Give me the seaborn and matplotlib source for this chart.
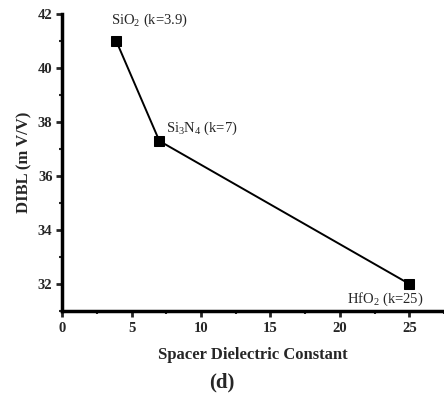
import matplotlib
matplotlib.use("Agg")
import matplotlib.pyplot as plt
import seaborn as sns
import pandas as pd
from matplotlib.ticker import MultipleLocator

# Data: spacer dielectric constant vs DIBL
k_values = [3.9, 7, 25]
dibl = [41.0, 37.3, 32.0]
materials = ["SiO$_2$ (k=3.9)", "Si$_3$N$_4$ (k=7)", "HfO$_2$ (k=25)"]

df = pd.DataFrame({"k": k_values, "DIBL": dibl})

sns.set_style("white")
plt.rcParams["font.family"] = ["Liberation Serif", "DejaVu Serif"]
plt.rcParams["mathtext.fontset"] = "custom"
plt.rcParams["mathtext.rm"] = "Liberation Serif"
plt.rcParams["mathtext.it"] = "Liberation Serif:italic"
plt.rcParams["mathtext.bf"] = "Liberation Serif:bold"
plt.rcParams["mathtext.default"] = "regular"

fig = plt.figure(figsize=(4.44, 3.94), dpi=100)
ax = fig.add_axes([0.14, 0.211, 0.86, 0.753])

sns.lineplot(data=df, x="k", y="DIBL", ax=ax, color="black", linewidth=1.4,
             marker="s", markersize=7, markeredgecolor="black",
             markerfacecolor="black")

ax.set_xlim(0, 27.5)
ax.set_ylim(31, 42)
ax.xaxis.set_major_locator(MultipleLocator(5))
ax.xaxis.set_minor_locator(MultipleLocator(2.5))
ax.yaxis.set_major_locator(MultipleLocator(2))
ax.yaxis.set_minor_locator(MultipleLocator(1))

for side in ["top", "right"]:
    ax.spines[side].set_visible(False)
for side in ["left", "bottom"]:
    ax.spines[side].set_linewidth(2.5)
    ax.spines[side].set_color("black")

ax.tick_params(which="major", direction="out", length=4, width=2,
               labelsize=10.5, bottom=True, left=True)
ax.tick_params(axis="x", which="major", pad=4)
ax.tick_params(axis="y", which="major", pad=3)
ax.tick_params(which="minor", direction="out", length=2.5, width=1.5,
               bottom=True, left=True)
for lab in ax.get_xticklabels() + ax.get_yticklabels():
    lab.set_fontweight("bold")

ax.set_xlabel("Spacer Dielectric Constant", fontsize=12, fontweight="bold",
              labelpad=9)
ax.set_ylabel("DIBL (m V/V)", fontsize=12, fontweight="bold", labelpad=4)

offsets = [(33, 21), (7, 13), (-24, -15)]
aligns = [("center", "center"), ("left", "center"), ("center", "center")]
for x, y, text, off, (ha, va) in zip(k_values, dibl, materials, offsets, aligns):
    ax.annotate(text, (x, y), xytext=off, textcoords="offset pixels",
                fontsize=10.5, ha=ha, va=va, annotation_clip=False)

fig.text(0.5, 0.03, "(d)", fontsize=15, fontweight="bold", ha="center",
         va="center")

fig.savefig("out.png", dpi=100)
